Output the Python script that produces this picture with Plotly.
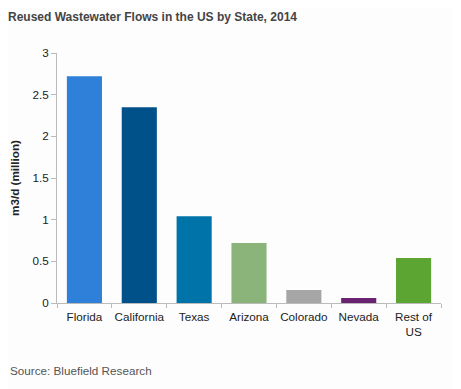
import plotly.graph_objects as go

states = ["Florida", "California", "Texas", "Arizona", "Colorado", "Nevada", "Rest of<br>US"]
flows = [2.72, 2.35, 1.04, 0.72, 0.155, 0.06, 0.54]
colors = ["#2F80D8", "#00508A", "#0074A8", "#8AB47A", "#A6A6A6", "#6A2370", "#5CA533"]
y_ticks = [0, 0.5, 1, 1.5, 2, 2.5, 3]
y_labels = ["0", "0.5", "1", "1.5", "2", "2.5", "3"]

# page body has an 8px margin, so the figure is drawn 8px smaller and offset
fig = go.Figure(go.Bar(x=states, y=flows, marker=dict(color=colors, line=dict(width=0)), width=0.64))

fig.update_layout(
    width=453, height=381,
    margin=dict(l=49, r=20, t=45, b=86),
    paper_bgcolor="#FDFDFD", plot_bgcolor="#FDFDFD",
    font=dict(family="Liberation Sans, Arial, sans-serif", size=11.7, color="#222222"),
    showlegend=False,
    title=dict(text="<b>Reused Wastewater Flows in the US by State, 2014</b>",
               xref="container", x=0, xanchor="left", yref="container", y=0.976, yanchor="middle",
               pad=dict(l=0, t=0), font=dict(size=12, color="#444444")),
    annotations=[dict(text="Source: Bluefield Research", xref="paper", yref="paper",
                      x=-49 / 384, y=-0.268, xanchor="left", yanchor="middle", showarrow=False,
                      font=dict(size=11.7, color="#555555"))],
)
fig.update_xaxes(showline=True, linecolor="#BBBBBB", linewidth=1, ticks="outside",
                 tickson="boundaries", ticklen=4, tickcolor="#BBBBBB", showgrid=False,
                 tickangle=0, automargin=False, ticklabelstandoff=3,
                 tickfont=dict(size=11.7, color="#222222"))
fig.update_yaxes(range=[0, 3], tickvals=y_ticks, ticktext=y_labels, showline=True,
                 linecolor="#BBBBBB", linewidth=1, ticks="outside", ticklen=5,
                 tickcolor="#BBBBBB", showgrid=False, zeroline=False, automargin=False,
                 title=dict(text="<b>m3/d (million)</b>", font=dict(size=11.7), standoff=11),
                 tickfont=dict(size=11.7, color="#222222"))

fig.write_html("out.html")
